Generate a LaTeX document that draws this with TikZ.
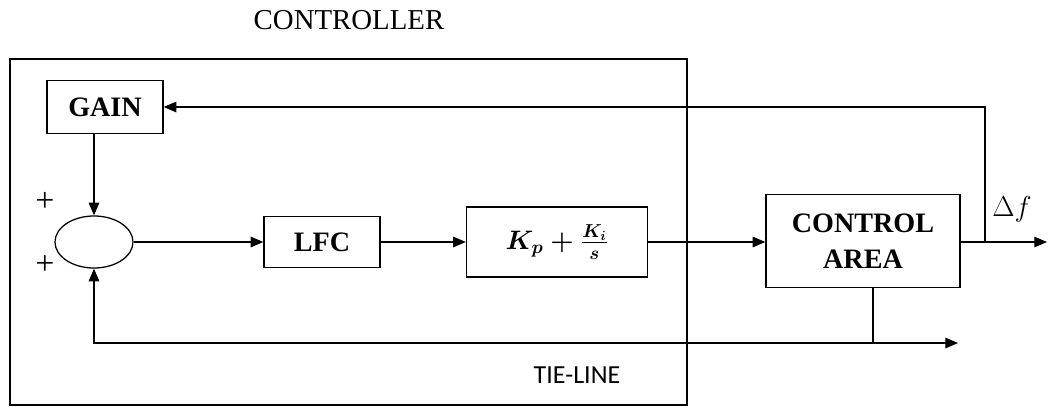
\documentclass[tikz,border=0pt]{standalone}
\usepackage{fix-cm}
\usepackage{amsmath}
\usepackage{fontspec}
\setmainfont{Liberation Serif}
\newfontfamily\tiefont{Carlito}
\usepackage{tikz}
\usetikzlibrary{arrows.meta,shapes.geometric}

\begin{document}
\begin{tikzpicture}[x=0.025cm, y=-0.025cm, >={Triangle[length=9pt,width=7.5pt]},
  line width=0.9pt,
  block/.style={draw, inner sep=0pt, align=center,
    font=\fontsize{20}{26}\selectfont\bfseries},
  summer/.style={draw, ellipse, inner sep=0pt,
    minimum width=1.95cm, minimum height=1.3cm},
  sign/.style={font=\fontsize{24}{26}\selectfont}]
  \useasboundingbox (0,0) rectangle (1048,407);
  % controller frame
  \node[font=\fontsize{20.5}{24}\selectfont] (title) at (349,20) {CONTROLLER};
  \draw (10,59) rectangle (687,405);
  % blocks
  \node[block, minimum width=2.9cm, minimum height=1.325cm] (gain) at (105,107) {GAIN};
  \node[summer] (sum) at (94,242) {};
  \node[block, minimum width=2.9cm, minimum height=1.275cm] (lfc) at (322,242) {LFC};
  \node[block, minimum width=4.525cm, minimum height=1.75cm,
    font=\fontsize{19}{22}\selectfont] (pi) at (557,242)
    {$\boldsymbol{K_p + \frac{K_i}{s}}$};
  \node[block, minimum width=4.85cm, minimum height=2.325cm] (area) at (863,241)
    {CONTROL\\AREA};
  \coordinate (tap) at (985,242);
  \coordinate (out) at (1047,242);
  \coordinate (drop) at (873,343);
  \coordinate (tieend) at (958,343);
  % signs and labels
  \node[sign] (plusa) at (45,202) {+};
  \node[sign] (plusb) at (45,265) {+};
  \node[font=\fontsize{20.5}{22}\selectfont] (df) at (1012,209) {$\Delta f$};
  \node[font=\tiefont\fontsize{18.5}{22}\selectfont] (tie) at (577,375) {TIE-LINE};
  % connections
  \draw[->] (gain.south -| sum) -- (sum.north);
  \draw[->] (sum.east) -- (lfc.west);
  \draw[->] (lfc.east) -- (pi.west);
  \draw[->] (pi.east) -- (area.west |- sum);
  \draw[->] (area.east |- sum) -- (out);
  \draw[->] (tap) |- (gain.east);
  \draw (area.south -| drop) -- (drop);
  \draw[->] (drop) -- (tieend);
  \draw[->] (drop) -| (sum.south);
\end{tikzpicture}
\end{document}
